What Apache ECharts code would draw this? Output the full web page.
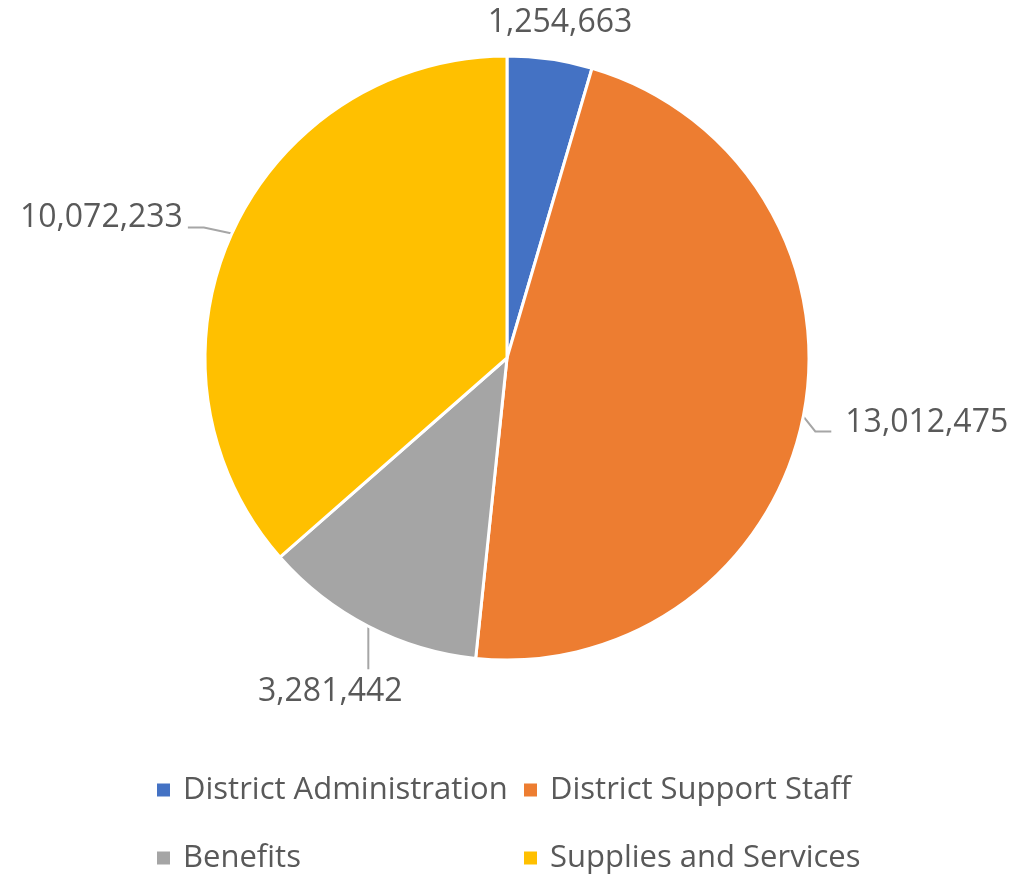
<!DOCTYPE html>
<html>
<head>
<meta charset="utf-8">
<script src="https://cdn.jsdelivr.net/npm/echarts@6/dist/echarts.min.js"></script>
<style>
  html, body { margin: 0; padding: 0; background: #ffffff; }
  #chart { width: 1015px; height: 874px; }
</style>
</head>
<body>
<div id="chart"></div>
<script>
// Budget categories and their amounts
const categories = ['District Administration', 'District Support Staff', 'Benefits', 'Supplies and Services'];
const amounts = [1254663, 13012475, 3281442, 10072233];
const colors = ['#4472C4', '#ED7D31', '#A5A5A5', '#FFC000'];

const fmt = v => v.toLocaleString('en-US');
const FONT = '"Open Sans", "Noto Sans", sans-serif';

// Pie geometry
const CX = 507, CY = 358, R = 302;

// Mid angle (degrees, counter-clockwise from +x) of each slice, starting at 12 o'clock, clockwise
const total = amounts.reduce((a, b) => a + b, 0);
const midAngles = [];
{
  let start = 90;
  amounts.forEach(v => {
    const span = v / total * 360;
    midAngles.push(start - span / 2);
    start -= span;
  });
}
const edgePoint = i => {
  const a = midAngles[i] * Math.PI / 180;
  return [CX + R * Math.cos(a), CY - R * Math.sin(a)];
};

// Label placement relative to the slice edge point: text anchor offset, alignment, leader line bends
const labelPlacement = [
  { dx: 10, dy: -36, align: 'center', line: null },
  { dx: 42, dy: 6, align: 'left', line: [[0, 0], [12, 15], [28, 15]] },
  { dx: -38, dy: 66, align: 'center', line: [[0, 0], [0, 43]] },
  { dx: -49, dy: -16, align: 'right', line: [[0, 0], [-28, -6], [-44, -6]] }
];

const chart = echarts.init(document.getElementById('chart'), null, { renderer: 'canvas' });

const legendText = {
  color: '#595959',
  fontSize: 31,
  fontFamily: FONT,
  lineHeight: 34,
  padding: [0, 0, 0, 8]
};
const legendSlots = [
  { left: 157, top: 773 },
  { left: 524, top: 773 },
  { left: 157, top: 841 },
  { left: 524, top: 841 }
];

chart.setOption({
  animation: false,
  color: colors,
  legend: categories.map((name, i) => ({
    left: legendSlots[i].left,
    top: legendSlots[i].top,
    padding: 0,
    itemWidth: 13,
    itemHeight: 13,
    icon: 'rect',
    selectedMode: false,
    itemStyle: { borderWidth: 0 },
    data: [name],
    textStyle: legendText
  })),
  series: [{
    type: 'pie',
    center: [CX, CY],
    radius: R,
    startAngle: 90,
    clockwise: true,
    avoidLabelOverlap: false,
    itemStyle: { borderColor: '#ffffff', borderWidth: 3 },
    label: {
      show: true,
      position: 'outside',
      formatter: p => fmt(p.value),
      color: '#595959',
      fontSize: 32,
      fontFamily: FONT
    },
    labelLine: {
      show: true,
      length: 14,
      length2: 16,
      lineStyle: { color: '#A6A6A6', width: 2 }
    },
    labelLayout: params => {
      const i = params.dataIndex;
      const p = labelPlacement[i];
      const [ex, ey] = edgePoint(i);
      const out = {
        x: ex + p.dx,
        y: ey + p.dy,
        align: p.align,
        verticalAlign: 'middle'
      };
      if (p.line) {
        out.labelLinePoints = p.line.map(([a, b]) => [ex + a, ey + b]);
      }
      return out;
    },
    emphasis: { disabled: true },
    data: categories.map((name, i) => {
      const d = { name, value: amounts[i] };
      if (!labelPlacement[i].line) {
        d.labelLine = { show: false };
      }
      return d;
    })
  }]
});
</script>
</body>
</html>
